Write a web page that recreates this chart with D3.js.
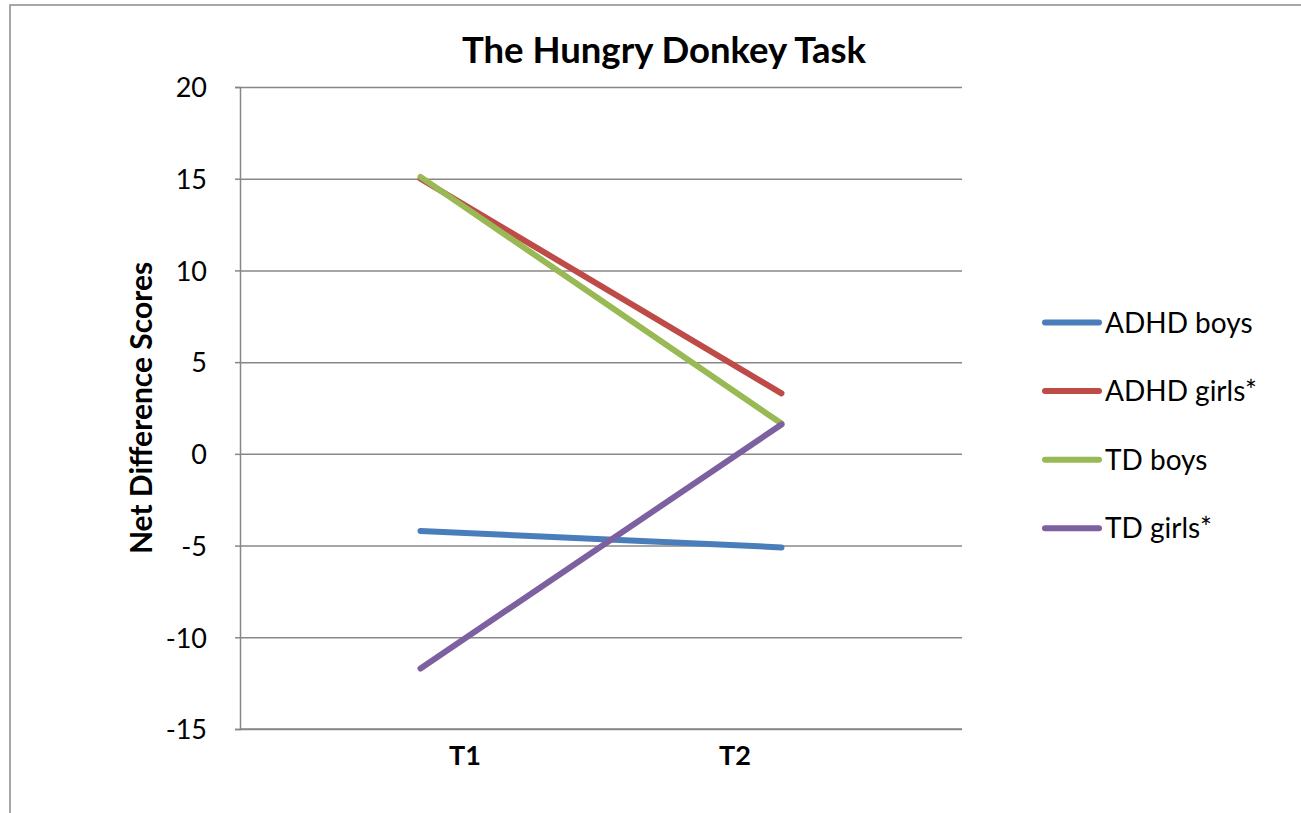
<!DOCTYPE html>
<html>
<head>
<meta charset="utf-8">
<script src="https://cdn.jsdelivr.net/npm/d3@7"></script>
<style>
  body { margin: 0; background: #fff; }
  svg { display: block; }
  text { font-family: Lato, "Open Sans", sans-serif; fill: #000; }
</style>
</head>
<body>
<svg></svg>
<script>
var width = 1301,
    height = 813
var plot = { left: 240, right: 962, top: 87, bottom: 729 }

var categories = ["T1", "T2"]
var seriesNames = ["ADHD boys", "ADHD girls*", "TD boys", "TD girls*"]
var adhdBoys = [-4.2, -5.1]
var adhdGirls = [15.0, 3.3]
var tdBoys = [15.1, 1.65]
var tdGirls = [-11.7, 1.6]
var seriesColors = ["#4a7ebb", "#be4b48", "#98b954", "#7d60a0"]
var yTicks = [-15, -10, -5, 0, 5, 10, 15, 20]

var seriesValues = [adhdBoys, adhdGirls, tdBoys, tdGirls]

var svg = d3.select("svg")
    .attr("width", width)
    .attr("height", height)

// outer chart border (cut off at right and bottom)
svg.append("rect")
    .attr("x", 10).attr("y", 5)
    .attr("width", 1400).attr("height", 900)
    .attr("fill", "none")
    .attr("stroke", "#8a8a8a")
    .attr("stroke-width", 1.5)

var x = d3.scalePoint()
    .domain(categories)
    .range([plot.left, plot.right])
    .padding(0.5)

// category labels sit a bit inward from the points
var xLabel = d3.scalePoint()
    .domain(categories)
    .range([465, 735])

var y = d3.scaleLinear()
    .domain([-15, 20])
    .range([plot.bottom, plot.top])

// gridlines
svg.append("g")
    .attr("transform", "translate(" + plot.left + ",0)")
    .call(d3.axisLeft(y).tickValues(yTicks).tickSize(-(plot.right - plot.left)).tickFormat(""))
    .call(function(g) {
        g.select(".domain").remove()
        g.selectAll(".tick line").attr("stroke", "#878787").attr("stroke-width", 1.5)
    })

// y axis
svg.append("g")
    .attr("transform", "translate(" + plot.left + ",0)")
    .call(d3.axisLeft(y).tickValues(yTicks).tickSize(5).tickPadding(28)
        .tickFormat(function(d) { return String(d) }))
    .call(function(g) {
        g.select(".domain").attr("stroke", "#878787").attr("stroke-width", 1.5)
        g.selectAll(".tick line").attr("stroke", "#878787").attr("stroke-width", 1.5)
        g.selectAll(".tick text")
            .attr("font-family", "Lato, sans-serif")
            .attr("font-size", 27)
            .attr("dy", "0.36em")
            .attr("fill", "#000")
    })

// x axis line
svg.append("line")
    .attr("x1", plot.left).attr("x2", plot.right)
    .attr("y1", y(-15)).attr("y2", y(-15))
    .attr("stroke", "#878787")
    .attr("stroke-width", 1.5)

svg.selectAll(".xlabel")
    .data(categories)
    .enter()
    .append("text")
    .attr("class", "xlabel")
    .attr("x", function(d) { return xLabel(d) })
    .attr("y", 765)
    .attr("text-anchor", "middle")
    .attr("font-weight", "bold")
    .attr("font-size", 27)
    .text(function(d) { return d })

// lines
var line = d3.line()
    .x(function(d, i) { return x(categories[i]) })
    .y(function(d) { return y(d) })

svg.selectAll(".series")
    .data(seriesValues)
    .enter()
    .append("path")
    .attr("class", "series")
    .attr("d", line)
    .attr("fill", "none")
    .attr("stroke", function(d, i) { return seriesColors[i] })
    .attr("stroke-width", 6)
    .attr("stroke-linecap", "round")

// title
svg.append("text")
    .attr("x", 664)
    .attr("y", 63)
    .attr("text-anchor", "middle")
    .attr("font-weight", "bold")
    .attr("font-size", 36.5)
    .text("The Hungry Donkey Task")

// y axis title
svg.append("text")
    .attr("transform", "translate(152,408) rotate(-90)")
    .attr("text-anchor", "middle")
    .attr("font-weight", "bold")
    .attr("font-size", 30)
    .text("Net Difference Scores")

// legend
var legend = svg.selectAll(".legend")
    .data(seriesNames)
    .enter()
    .append("g")
    .attr("class", "legend")
    .attr("transform", function(d, i) { return "translate(1045," + (322.5 + i * 68.6) + ")" })

legend.append("line")
    .attr("x1", 0).attr("x2", 54)
    .attr("stroke", function(d, i) { return seriesColors[i] })
    .attr("stroke-width", 6)
    .attr("stroke-linecap", "round")

legend.append("text")
    .attr("x", 60)
    .attr("dy", "0.36em")
    .attr("font-size", 28)
    .text(function(d) { return d })
</script>
</body>
</html>
